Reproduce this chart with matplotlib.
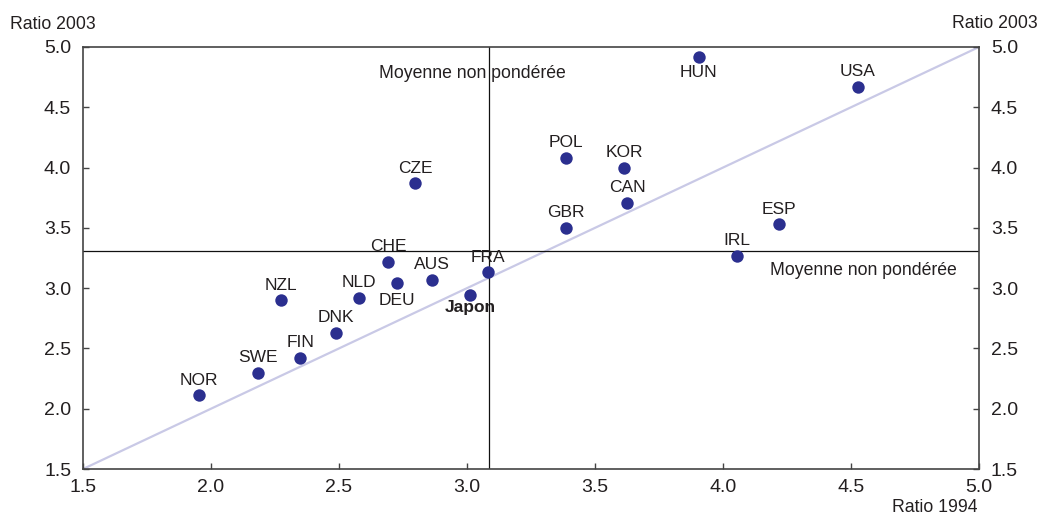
import matplotlib.pyplot as plt

plt.rcParams['font.family'] = ['Liberation Sans', 'DejaVu Sans']

# Country codes with their ratios in 1994 (x) and 2003 (y)
codes = ["NOR", "SWE", "FIN", "DNK", "NZL", "NLD", "DEU", "CHE", "AUS", "FRA",
         "Japon", "CZE", "GBR", "POL", "KOR", "CAN", "HUN", "USA", "ESP", "IRL"]
ratio_1994 = [1.953, 2.184, 2.348, 2.488, 2.273, 2.578, 2.727, 2.691, 2.863, 3.082,
              3.012, 2.797, 3.387, 3.387, 3.613, 3.625, 3.906, 4.527, 4.219, 4.055]
ratio_2003 = [2.11, 2.30, 2.42, 2.63, 2.90, 2.92, 3.04, 3.22, 3.07, 3.13,
              2.94, 3.87, 3.50, 4.08, 4.00, 3.71, 4.92, 4.67, 3.53, 3.27]

mean_1994 = 3.087
mean_2003 = 3.308

ticks = [1.5, 2.0, 2.5, 3.0, 3.5, 4.0, 4.5, 5.0]
labels_below = {"DEU": -15.3, "HUN": -14.9, "Japon": -11.8}

DOT = '#2b2f8f'
TXT = '#231f20'

fig = plt.figure(figsize=(10.41, 5.15), dpi=100)
ax = fig.add_axes([83 / 1041, 1 - 469 / 515, 896 / 1041, 422 / 515])

ax.set_xlim(1.5, 5.0)
ax.set_ylim(1.5, 5.0)

# 45 degree line
ax.plot([1.5, 5.0], [1.5, 5.0], color='#c9c9e6', lw=1.6, zorder=1)

# unweighted means
ax.axvline(mean_1994, color='#111111', lw=0.9, zorder=1)
ax.axhline(mean_2003, color='#111111', lw=0.9, zorder=1)

ax.scatter(ratio_1994, ratio_2003, s=80, color=DOT, zorder=3, linewidths=0)

for code, x, y in zip(codes, ratio_1994, ratio_2003):
    dy = labels_below.get(code, 7.7)
    weight = 'bold' if code == "Japon" else 'normal'
    ax.annotate(code, (x, y), xytext=(0, dy), textcoords='offset points',
                ha='center', va='baseline', fontsize=12.5, color=TXT,
                fontweight=weight, zorder=4)

ax.text(3.022, 4.74, "Moyenne non pondérée", ha='center', va='baseline',
        fontsize=12.7, color=TXT)
ax.text(4.913, 3.109, "Moyenne non pondérée", ha='right', va='baseline',
        fontsize=12.7, color=TXT)

for side in ['left', 'right', 'top', 'bottom']:
    ax.spines[side].set_color('#444444')
    ax.spines[side].set_linewidth(1.2)

ax.set_xticks(ticks)
ax.set_yticks(ticks)
ax.set_xticklabels([f"{t:.1f}" for t in ticks])
ax.set_yticklabels([f"{t:.1f}" for t in ticks])
ax.tick_params(axis='x', direction='in', length=4, width=1, color='#444444',
               labelsize=14, labelcolor=TXT, pad=7, top=False)
ax.tick_params(axis='y', direction='in', length=4, width=1, color='#444444',
               labelsize=14, labelcolor=TXT, pad=8.5, left=True, right=True,
               labelleft=True, labelright=True)

fig.text(10 / 1041, 1 - 29 / 515, "Ratio 2003", ha='left', va='baseline',
         fontsize=12.7, color=TXT)
fig.text(1038 / 1041, 1 - 28.5 / 515, "Ratio 2003", ha='right', va='baseline',
         fontsize=12.7, color=TXT)
fig.text(978 / 1041, 2.5 / 515, "Ratio 1994", ha='right', va='baseline',
         fontsize=12.7, color=TXT)

fig.savefig("out.png", dpi=100)
